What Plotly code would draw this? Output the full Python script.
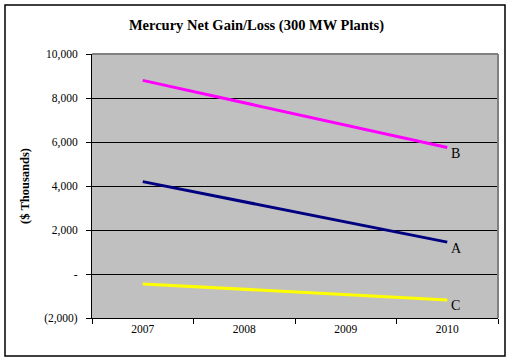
import plotly.graph_objects as go

years = ["2007", "2008", "2009", "2010"]
series_names = ["A", "B", "C"]
series_values = {
    "A": [4200, 3283, 2367, 1450],
    "B": [8800, 7783, 6767, 5750],
    "C": [-450, -700, -950, -1180],
}
series_colors = {"A": "#000080", "B": "#FF00FF", "C": "#FFFF00"}
tick_vals = [-2000, 0, 2000, 4000, 6000, 8000, 10000]
tick_text = ["(2,000)", "-", "2,000", "4,000", "6,000", "8,000", "10,000"]

font = "Liberation Serif, Times New Roman, serif"
fig = go.Figure()
for name in series_names:
    fig.add_trace(go.Scatter(x=[years[0], years[-1]], y=[series_values[name][0], series_values[name][-1]],
                             mode="lines", line=dict(color=series_colors[name], width=3),
                             showlegend=False, hoverinfo="skip"))
    fig.add_annotation(x=len(years) - 1, y=series_values[name][-1], text=name, showarrow=False,
                       xanchor="left", yanchor="middle", xshift=2, yshift=-6,
                       font=dict(family=font, size=14, color="black"))

L, R, T, B = 92, 498, 54, 318
W, H = 513, 361
fig.update_layout(
    width=W, height=H,
    margin=dict(l=L, r=W - R, t=T, b=H - B),
    paper_bgcolor="white", plot_bgcolor="#C0C0C0",
    font=dict(family=font, size=11, color="black"),
    title=dict(text="<b>Mercury Net Gain/Loss (300 MW Plants)</b>", x=0.5, xanchor="center",
               y=1 - 25 / H, yanchor="middle", font=dict(family=font, size=14.5)),
    xaxis=dict(type="category", categoryorder="array", categoryarray=years,
               showgrid=False, showline=True, linecolor="black", linewidth=1,
               ticks="outside", tickson="boundaries", ticklen=5, tickcolor="black",
               range=[-0.5, 3.5], tickfont=dict(size=11.5)),
    yaxis=dict(range=[-2000, 10000], tickvals=tick_vals, ticktext=tick_text,
               showgrid=True, gridcolor="black", gridwidth=1, zeroline=False,
               showline=True, linecolor="black", linewidth=1,
               ticks="outside", ticklen=5, tickcolor="black", ticklabelstandoff=6,
               title=dict(text="<b>($ Thousands)</b>", font=dict(size=12.5), standoff=11),
               tickfont=dict(size=11.5)),
)
# plot area top/right border (gray)
fig.add_shape(type="line", xref="x domain", yref="y domain", x0=0, x1=1, y0=1, y1=1,
              line=dict(color="#808080", width=2))
fig.add_shape(type="line", xref="x domain", yref="y domain", x0=1, x1=1, y0=0, y1=1,
              line=dict(color="#808080", width=2))
# outer chart border
pw, ph = R - L, B - T
fig.add_shape(type="rect", xref="paper", yref="paper",
              x0=(5 - L) / pw, x1=(505 - L) / pw, y0=(B - 356) / ph, y1=(B - 5) / ph,
              line=dict(color="black", width=1.5))
fig.write_html("out.html", config={"displayModeBar": False},
               post_script="document.body.style.margin='0';")
